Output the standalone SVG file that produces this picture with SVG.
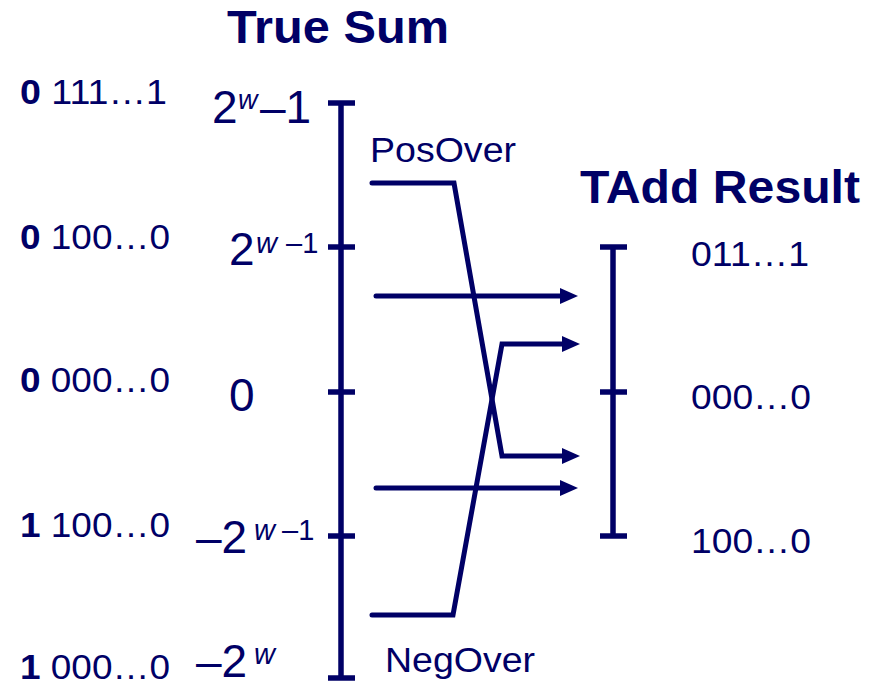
<svg xmlns="http://www.w3.org/2000/svg" width="873" height="686" viewBox="0 0 873 686">
<style>
text{font-family:"Liberation Sans",Arial,Helvetica,sans-serif;fill:#000066}
.title{font-weight:bold;font-size:47px}
.code{font-size:35px}
.big{font-size:46px}
.sup{font-size:29px}
.it{font-style:italic}
.axis{stroke:#000066;stroke-width:5.5;fill:none}
.conn{stroke:#000066;stroke-width:5;fill:none;stroke-linecap:round;stroke-linejoin:miter}
</style>
<defs>
<marker id="ah" markerUnits="userSpaceOnUse" markerWidth="18" markerHeight="16" viewBox="0 0 18 16" refX="8" refY="8" orient="auto">
<path d="M0,0 L18,8 L0,16 z" fill="#000066"/>
</marker>
</defs>
<rect width="873" height="686" fill="#ffffff"/>

<g id="title-true-sum"><text class="title" x="227" y="43" font-size="48" textLength="222" lengthAdjust="spacingAndGlyphs">True Sum</text></g>
<g id="title-tadd"><text class="title" x="580" y="203" textLength="280" lengthAdjust="spacingAndGlyphs">TAdd Result</text></g>

<g id="left-codes">
<text class="code" x="20" y="104" textLength="147" lengthAdjust="spacingAndGlyphs"><tspan font-weight="bold">0</tspan> 111…1</text>
<text class="code" x="20" y="249" textLength="150" lengthAdjust="spacingAndGlyphs"><tspan font-weight="bold">0</tspan> 100…0</text>
<text class="code" x="20" y="392" textLength="150" lengthAdjust="spacingAndGlyphs"><tspan font-weight="bold">0</tspan> 000…0</text>
<text class="code" x="20" y="537" textLength="150" lengthAdjust="spacingAndGlyphs"><tspan font-weight="bold">1</tspan> 100…0</text>
<text class="code" x="20" y="679" textLength="150" lengthAdjust="spacingAndGlyphs"><tspan font-weight="bold">1</tspan> 000…0</text>
</g>

<g id="true-sum-labels">
<text class="big" x="212" y="123">2<tspan class="it" font-size="27" x="238" y="109">w</tspan><tspan x="260" y="123">–1</tspan></text>
<text class="big" x="229" y="265" font-size="44">2<tspan class="sup it" x="256" y="253">w</tspan><tspan class="sup" x="286" y="253">–1</tspan></text>
<text class="big" x="229" y="411">0</text>
<text class="big" x="196" y="553" font-size="44">–2<tspan class="sup it" x="254" y="540">w</tspan><tspan class="sup" x="282" y="540">–1</tspan></text>
<text class="big" x="196" y="677" font-size="44">–2<tspan class="sup it" x="254" y="664">w</tspan></text>
</g>

<g id="true-sum-axis">
<line class="axis" x1="341" y1="103" x2="341" y2="678"/>
<line class="axis" x1="328" y1="103" x2="355" y2="103"/>
<line class="axis" x1="328" y1="247" x2="355" y2="247"/>
<line class="axis" x1="328" y1="392" x2="355" y2="392"/>
<line class="axis" x1="328" y1="536" x2="355" y2="536"/>
<line class="axis" x1="328" y1="678" x2="355" y2="678"/>
</g>

<g id="tadd-axis">
<line class="axis" x1="613" y1="247" x2="613" y2="536"/>
<line class="axis" x1="600" y1="247" x2="627" y2="247"/>
<line class="axis" x1="600" y1="392" x2="627" y2="392"/>
<line class="axis" x1="600" y1="536" x2="627" y2="536"/>
</g>

<g id="tadd-labels">
<text class="code" x="691" y="266" textLength="118" lengthAdjust="spacingAndGlyphs">011…1</text>
<text class="code" x="691" y="409" textLength="120" lengthAdjust="spacingAndGlyphs">000…0</text>
<text class="code" x="691" y="553" textLength="120" lengthAdjust="spacingAndGlyphs">100…0</text>
</g>

<g id="posover"><text class="code" x="370" y="162" textLength="146" lengthAdjust="spacingAndGlyphs">PosOver</text></g>
<g id="negover"><text class="code" x="385" y="672" textLength="150" lengthAdjust="spacingAndGlyphs">NegOver</text></g>

<g id="connectors">
<polyline class="conn" points="372,183 454,183 502,456 570,456" marker-end="url(#ah)"/>
<polyline class="conn" points="372,615 453,615 502,344 570,344" marker-end="url(#ah)"/>
<line class="conn" x1="376" y1="296" x2="568" y2="296" marker-end="url(#ah)"/>
<line class="conn" x1="376" y1="488" x2="568" y2="488" marker-end="url(#ah)"/>
</g>
</svg>
